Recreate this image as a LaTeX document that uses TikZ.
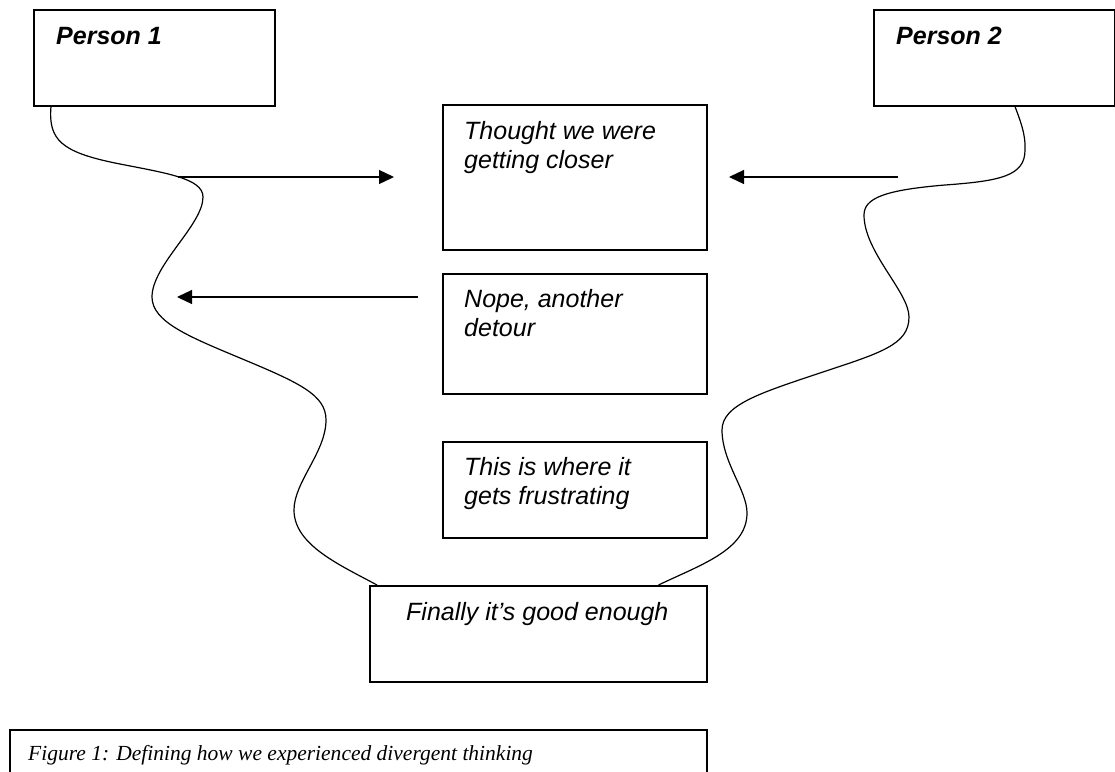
\documentclass[tikz,border=0pt]{standalone}
\usepackage{fontspec}
\setmainfont{Liberation Serif}
\setsansfont{Liberation Sans}
\usetikzlibrary{arrows.meta}
\begin{document}
\begin{tikzpicture}[x=1pt,y=-1pt,
  box/.style={draw, line width=1.5pt, rectangle, inner sep=0pt, anchor=north west},
  lbl/.style={anchor=north west, inner sep=0pt, align=left,
    font=\sffamily\itshape\fontsize{25}{29.5}\selectfont},
  ttl/.style={anchor=north west, inner sep=0pt,
    font=\sffamily\bfseries\itshape\fontsize{25}{29.5}\selectfont},
  path/.style={line width=1.2pt},
  arr/.style={line width=1.3pt, -{Triangle[length=15pt,width=14pt]}}
]
\useasboundingbox (0,0) rectangle (1115,771);
\clip (0,0) rectangle (1115,771);
\fill[white] (0,0) rectangle (1115,771);

% boxes
\node[box, minimum width=241pt, minimum height=96pt] (p1) at (33,9) {};
\node[box, minimum width=241pt, minimum height=96pt] (p2) at (873,9) {};
\node[box, minimum width=264pt, minimum height=145pt] (tb) at (442,104) {};
\node[box, minimum width=264pt, minimum height=120pt] (nb) at (442,273) {};
\node[box, minimum width=264pt, minimum height=96pt] (fb) at (442,441) {};
\node[box, minimum width=337pt, minimum height=96pt] (fin) at (369,585) {};
\node[box, minimum width=697pt, minimum height=60pt] (cap) at (9,729) {};

% texts
\node[ttl] (p1t) at (56,23.35) {\strut Person 1};
\node[ttl] (p2t) at (896,23.35) {\strut Person 2};
\node[lbl] (tbt) at (464,118.35) {\strut Thought we were\\getting closer};
\node[lbl] (nbt) at (464,286.35) {\strut Nope, another\\detour};
\node[lbl] (fbt) at (464,454.35) {\strut This is where it\\gets frustrating};
\node[lbl] (fint) at (406,599.35) {\strut Finally it’s good enough};
\node[anchor=base west, inner sep=0pt, font=\rmfamily\itshape\fontsize{21.5}{25}\selectfont] (capt) at (28,760) {Figure 1: Defining how we experienced divergent thinking};

% wavy paths
\coordinate (l0) at ([xshift=18pt]p1.south west);
\coordinate (l1) at ([xshift=8pt]fin.north west);
\coordinate (r0) at ([xshift=142pt]p2.south west);
\coordinate (r1) at ([xshift=-49pt]fin.north east);

\draw[path] (l0) .. controls (48,140) and (62,152) .. (115,163)
  .. controls (165,173) and (203,178) .. (203,197)
  .. controls (203,225) and (152,265) .. (152,297)
  .. controls (152,322) and (190,337) .. (240,358)
  .. controls (300,383) and (326,395) .. (326,420)
  .. controls (326,452) and (294,482) .. (294,510)
  .. controls (294,545) and (340,565) .. (l1);

\draw[path] (r0) .. controls (1020,120) and (1026,135) .. (1025,150)
  .. controls (1025,176) and (1000,181) .. (945,185)
  .. controls (885,190) and (864,198) .. (864,215)
  .. controls (864,252) and (909,292) .. (909,317)
  .. controls (909,345) and (880,353) .. (820,373)
  .. controls (760,393) and (722,405) .. (722,430)
  .. controls (722,462) and (747,490) .. (747,513)
  .. controls (747,550) and (700,565) .. (r1);

% arrows
\coordinate (a1s) at (178,177);
\coordinate (a1e) at (394,177);
\coordinate (a2s) at (898,177);
\coordinate (a2e) at (729,177);
\coordinate (a3s) at (418,297);
\coordinate (a3e) at (177,297);
\draw[arr] (a1s) -- (a1e);
\draw[arr] (a2s) -- (a2e);
\draw[arr] (a3s) -- (a3e);
\end{tikzpicture}
\end{document}
